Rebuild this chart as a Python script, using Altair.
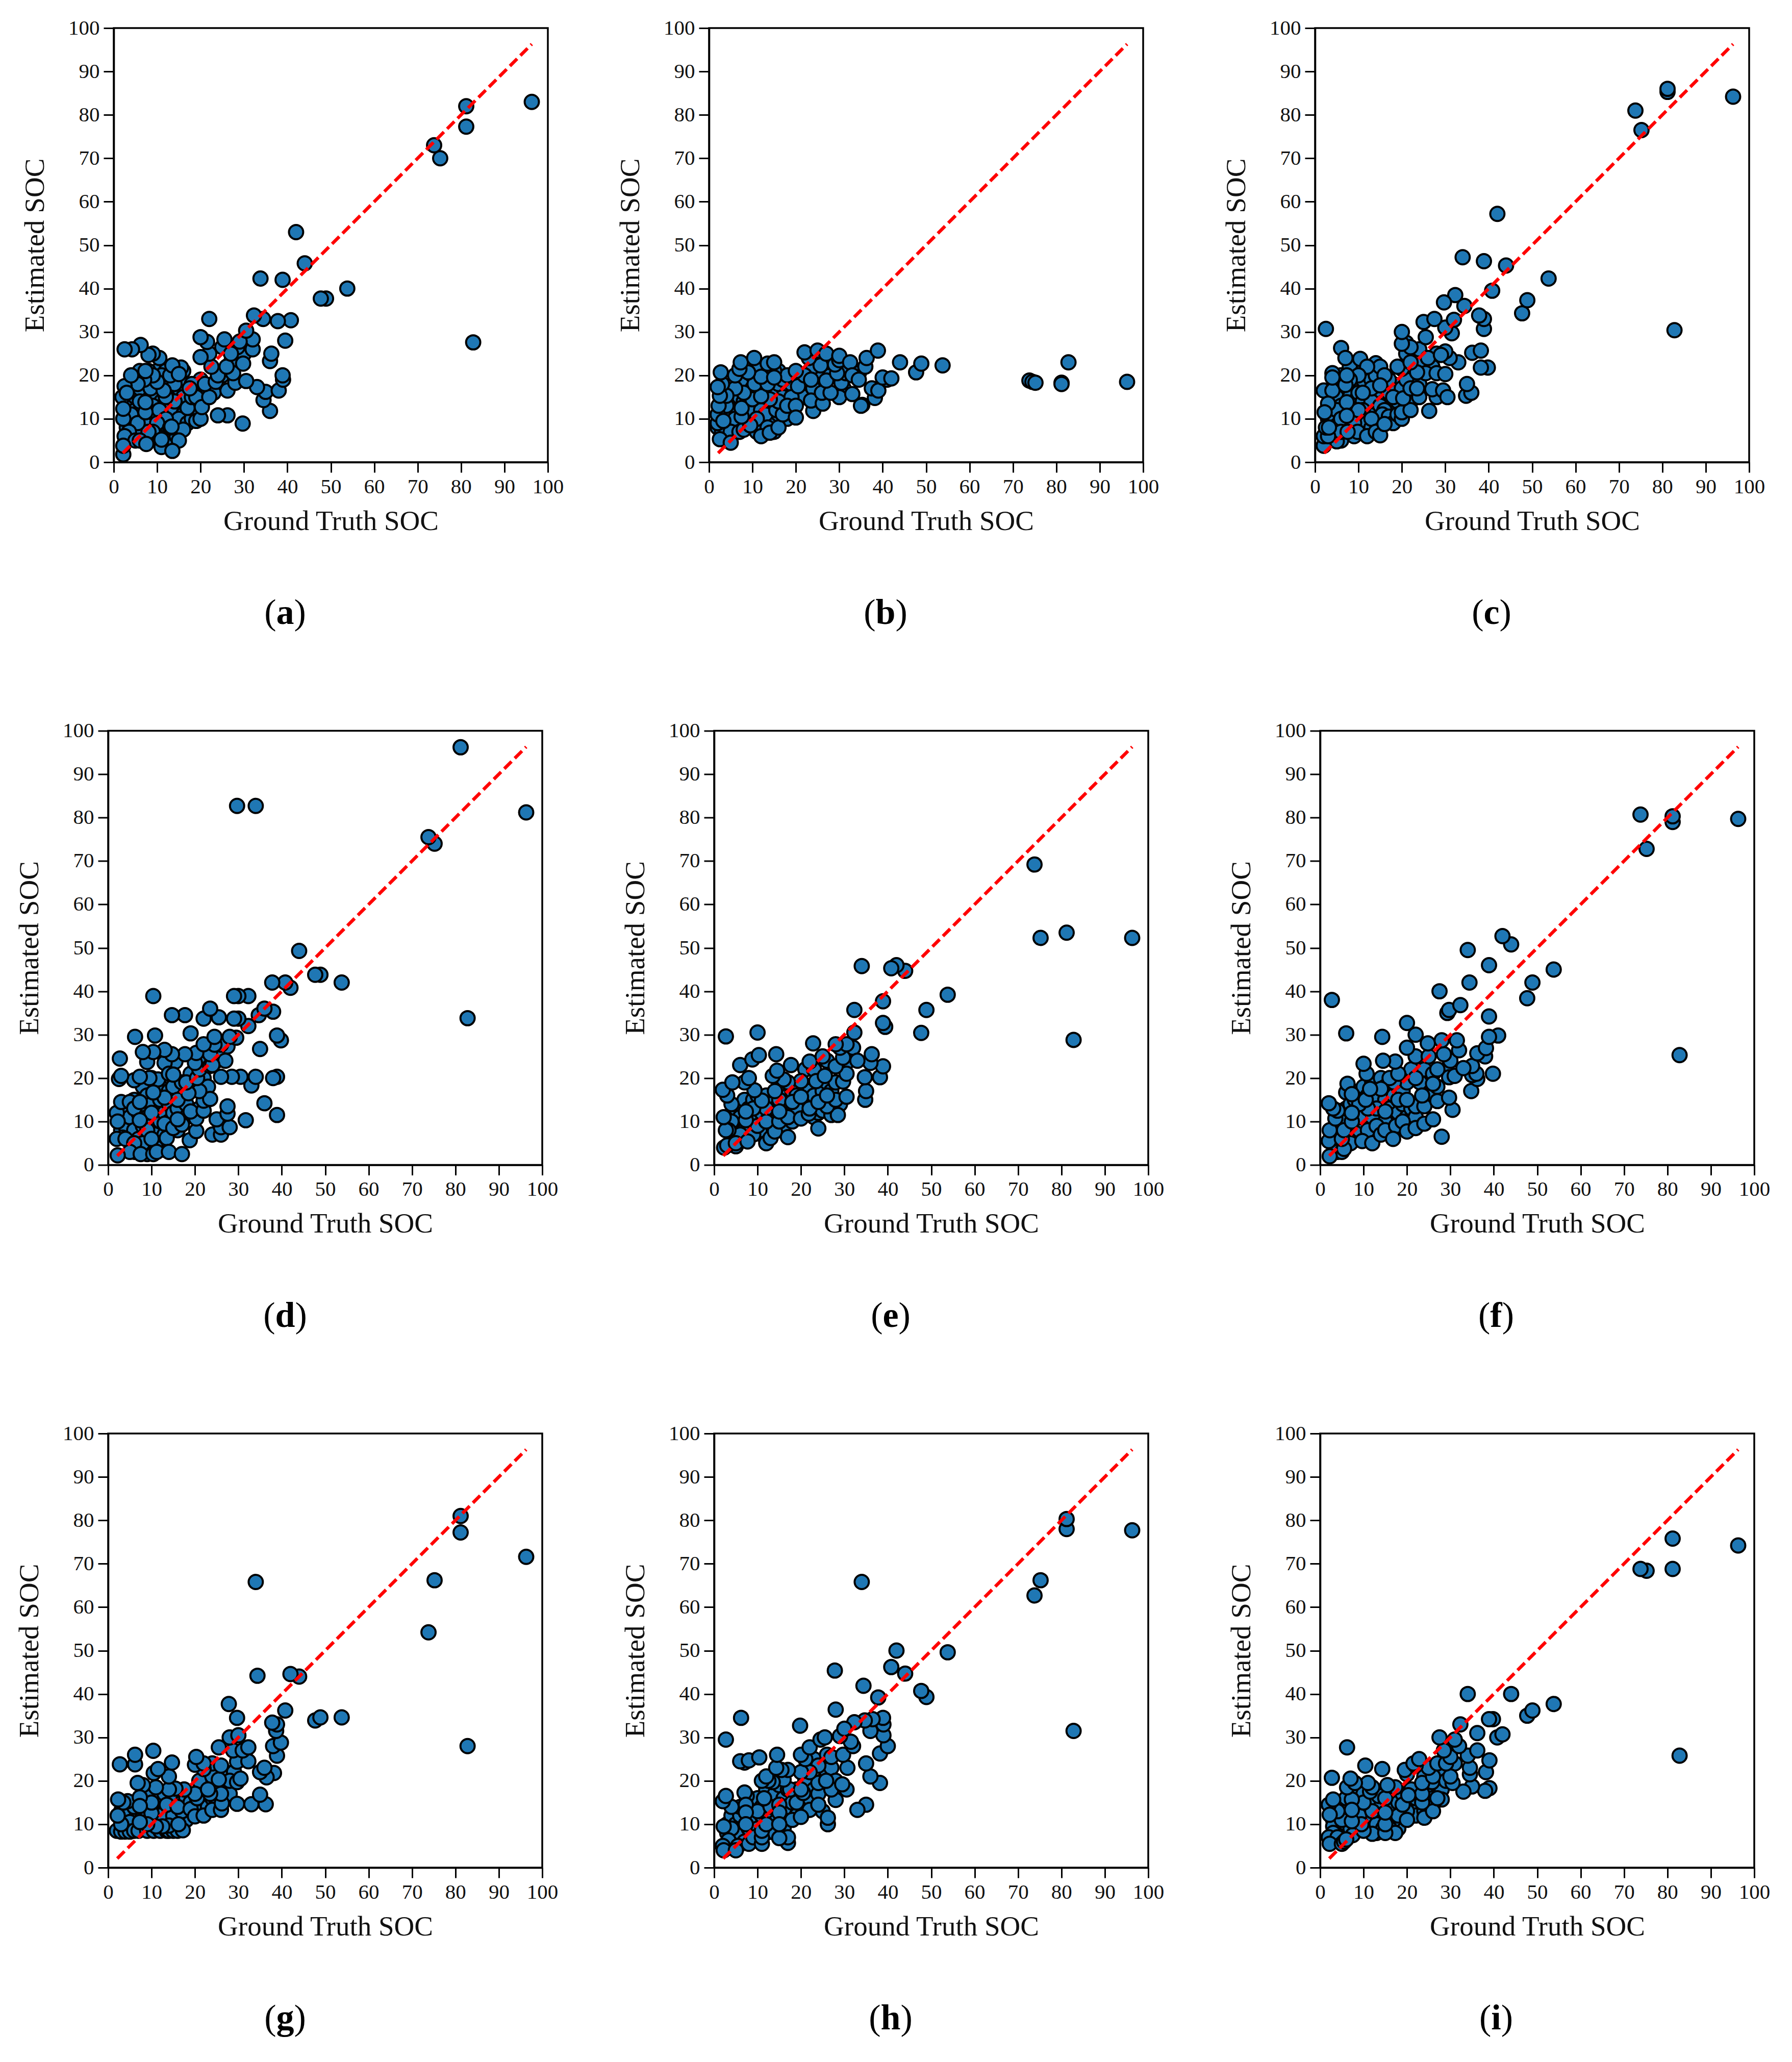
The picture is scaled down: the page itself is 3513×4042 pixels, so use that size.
import altair as alt
import pandas as pd

FONT = "Liberation Serif"
TICKS = list(range(0, 101, 10))
LINE_ENDS = [2.1, 96.3]
X_TITLE = "Ground Truth SOC"
Y_TITLE = "Estimated SOC"

FILL_A = [(3,12),(4,14),(4,9),(6,11),(6,8),(7,15),(8,10),(8,13),(9,16),(9,10),(10,15),(10,21),(11,8),(11,11),(11,14),(11,18),(12,13),(12,7),(12,19),(13,12),(13,16),(13,5),(14,10),(14,12),(14,16),(15,14),(15,17),(15,7),(16,11),(16,18),(17,15),(18,13),(19,17),(20,19),(21,16),(23,16),(25,20),(27,23),(30,25),(8,21),(6,21),(5,15),(5,7),(3,5),(12,21),(10,6),(6,17),(7,9)]
FILL_B = [(3,12),(3,14),(4,10),(5,15),(5,9),(6,13),(7,15),(7,18),(8,11),(8,14),(8,19),(9,10),(9,16),(10,9),(10,17),(10,20),(11,13),(11,15),(11,22),(12,8),(12,17),(13,13),(13,16),(13,20),(14,10),(14,12),(15,9),(15,16),(16,11),(16,18),(17,13),(18,16),(18,10),(19,18),(21,15),(22,15),(24,17),(26,20),(28,20),(31,17),(6,8),(4,8),(11,7),(16,21),(17,19),(21,19),(24,22),(28,23)]
FILL_C = [(3,10),(4,12),(4,8),(5,15),(5,18),(6,13),(6,20),(7,9),(8,12),(8,15),(8,22),(9,14),(9,18),(10,8),(10,16),(11,10),(11,19),(11,21),(12,13),(12,16),(12,9),(13,12),(13,19),(14,9),(14,16),(14,20),(15,10),(15,15),(16,14),(16,18),(17,13),(17,16),(18,12),(18,18),(19,14),(20,17),(21,19),(22,14),(24,18),(25,23),(27,22),(28,25),(24,26),(21,25),(3,11),(6,5),(9,6),(13,8)]
FILL_D = [(3,11),(3,8),(4,13),(4,9),(5,11),(6,8),(6,15),(7,12),(7,6),(8,14),(8,9),(8,18),(9,11),(9,16),(9,4),(10,14),(10,9),(10,20),(11,12),(11,7),(12,15),(12,10),(12,18),(13,12),(13,7),(14,14),(14,17),(14,10),(15,12),(15,18),(16,8),(16,13),(17,15),(17,19),(18,11),(18,14),(19,21),(20,18),(21,13),(21,24),(22,20),(23,18),(25,24),(26,26),(27,24),(9,2.5),(6,3),(13,3.5)]
FILL_E = [(3,11),(4,7),(4,8),(5,10),(5,13),(6,9),(7,8),(7,15),(8,13),(9,10),(9,15),(10,11),(10,16),(11,12),(11,7),(12,8),(12,16),(13,11),(13,14),(14,9),(14,13),(15,8),(15,18),(16,12),(16,15),(17,14),(17,16),(18,12),(18,17),(19,16),(19,11),(20,13),(21,15),(22,17),(23,11),(23,16),(24,12),(25,17),(26,19),(27,17),(28,19),(21,22),(23,22),(26,24),(31,24),(32,27),(28,12),(29,14)]
FILL_F = [(3,8),(3,5),(4,9),(4,6),(5,11),(6,13),(6,7),(7,14),(7,8),(8,11),(8,15),(8,6),(9,8),(9,17),(10,10),(10,12),(10,18),(11,16),(11,6),(12,9),(12,14),(12,19),(13,11),(13,16),(14,13),(14,20),(15,15),(15,18),(16,9),(16,13),(17,11),(17,16),(18,12),(18,18),(19,14),(19,17),(20,11),(20,19),(21,13),(21,22),(22,11),(23,19),(24,22),(25,16),(26,21),(27,18),(29,22),(30,24)]
FILL_G = [(3,13),(4,12),(4,10),(5,13),(6,11),(6,10),(7,12),(8,10),(8,14),(9,12),(9,15),(10,10),(10,17),(11,11),(11,13),(12,10),(12,14),(12,16),(13,11),(13,13),(13,17),(14,12),(15,11),(15,14),(15,16),(16,12),(17,11),(17,15),(18,13),(18,16),(19,12),(19,15),(20,14),(21,13),(21,15),(22,16),(23,14),(24,16),(25,15),(25,18),(27,18),(28,17),(23,20),(21,20),(24,21),(27,22),(29,22),(31,25)]
FILL_H = [(3,10),(3,8),(4,12),(4,6),(5,10),(5,7),(6,12),(6,8),(7,6),(8,9),(8,13),(8,15),(9,11),(9,15),(10,9),(10,7),(10,16),(11,12),(11,14),(12,8),(12,16),(12,18),(13,10),(13,12),(14,8),(14,15),(14,17),(15,19),(16,9),(16,12),(16,16),(17,14),(17,18),(18,15),(19,12),(19,18),(20,15),(21,14),(21,20),(22,16),(23,18),(24,17),(25,20),(26,22),(27,23),(28,20),(23,25),(26,26)]
FILL_I = [(3,11),(3,13),(4,10),(4,15),(5,8),(5,14),(6,10),(6,12),(6,16),(7,9),(8,12),(8,14),(8,17),(9,9),(9,15),(9,18),(10,11),(10,13),(10,17),(11,9),(11,14),(12,11),(12,16),(13,8),(13,13),(14,11),(14,14),(15,18),(16,11),(16,13),(16,15),(17,14),(18,15),(18,9),(19,17),(20,15),(21,14),(21,18),(22,12),(22,16),(24,13),(25,17),(26,16),(27,19),(28,18),(24,21),(28,22),(31,24)]

PANEL_A = [(5,12),(6,14),(4,11),(9,13),(10.5,12),(15,10),(17,9),(18,10),(19,12),(20,15),(16,15),(14,18),(11,20),(8.5,17),(18,18),(12,10),(10,9),(9,7),(8,7),(3,8),(5.5,9),(3.5,7),(2.5,6),(5,5),(6,5),(14.5,6),(13,8),(16,7.5),(15,5),(14,14),(17,12.5),(18,15),(19,15),(17.5,17),(12,15),(11.5,16.5),(10,18.5),(9,20),(7,19),(5.5,18),(3,16),(2,15),(2.5,17.5),(13,20),(16,21),(15.5,21.8),(13.5,22.3),(4,20),(10.5,24),(9,25),(8,24.7),(6.2,27),(4.2,26),(2.5,26),(19,9.5),(20,10),(29.7,8.9),(26.2,10.8),(24,10.8),(20.3,12.7),(36,11.8),(22,15),(34.5,14.3),(26.2,16.5),(35,16.2),(38,16.5),(33,17.3),(21,18),(23.5,18.5),(28,18.3),(30.5,18.7),(39,19),(38.9,20),(27.5,20.5),(24,20),(26,22),(22.5,22),(22,25),(25,26.5),(28.5,26.5),(29.8,22.7),(27,25),(20,24.2),(36,23.3),(36.3,25),(32,26),(32,28.3),(29,27.8),(25.5,28.3),(21.5,27.7),(20,28.8),(82.8,27.6),(39.5,28),(30.5,30.3),(40.8,32.7),(37.8,32.5),(34.4,33),(32.3,33.8),(22,33),(48.9,37.7),(47.7,37.7),(53.8,40),(38.9,42),(33.8,42.3),(44,45.8),(42,53),(75.2,70),(73.8,73),(81.2,77.3),(81.2,82),(96.3,83),(2.2,10),(2.2,1.8),(2.2,3.8),(7.5,4.2),(11,3.5),(13.5,2.6),(11,5.2),(13.3,8.2),(2.2,12.3),(3,16),(7.3,11.5),(7.3,13.8),(7.3,21),(15,20.3)]

PANEL_B = [(5,12),(4,13),(6,10),(9,13),(10,12),(12,12),(13,11),(17,15),(15.5,12),(11,10),(13.5,8),(15,7),(12,6),(14,6.8),(16,8),(17,11),(16,14),(19,15),(18,13),(20,13),(20,10.3),(24,11.8),(23.5,14.2),(26.2,13.5),(26,16),(30,15),(28,16),(18,20),(20.5,17.5),(22,20),(20,21),(23.5,19),(27,18.8),(30.5,18.3),(31.5,20.5),(29.5,20.5),(29,22.5),(25.7,22.3),(23,24),(22,25.3),(25,25.7),(27,25),(30,23.5),(30,24.5),(32.5,23),(34.5,20.5),(33,20),(34.5,19),(33,15.7),(35.3,13.2),(35,13),(38.2,14.8),(37.5,17),(39,16.5),(36,22),(36.3,24),(38.9,25.7),(41,19),(40,19.5),(42,19.3),(44,23),(47.7,20.7),(48.9,22.7),(53.8,22.3),(73.8,18.8),(74.5,18.5),(75.2,18.3),(81.2,18.3),(81.2,18),(82.8,23),(96.3,18.5),(2,8),(3,7),(5,7),(2.5,5.3),(5,4.5),(7,7),(8,7.5),(9.5,8.5),(2,9),(2,11),(3.3,9.5),(7.5,10.5),(7.5,12.5),(2.2,13),(10,14.5),(14,14.5),(12,15.2),(8,16),(6,17),(4,15.3),(2.5,15.3),(3,18),(2,17.3),(14,22),(10.5,18),(13.5,18),(12,19.7),(15,21),(13.5,22.7),(15,23),(9,20.7),(6,20),(2.7,20.7),(7,21.5),(7.3,23),(10.4,24),(15,19.5)]

PANEL_C = [(5,12),(6,10),(11,14),(13,14),(15,13),(16,12),(15.5,11),(11,12),(13,10),(9,9),(10,12),(9.8,7),(12,6),(14,7),(15,6.2),(17,10.5),(18,9),(16,8.8),(19,11),(20,10),(20,11.5),(22,12),(26.3,11.8),(18,15),(20.3,14.7),(22,17),(24,15),(28,15),(23.5,17),(27,16.8),(29.5,16.5),(30.5,15),(34.8,15.3),(36,16),(35,18),(25.5,20.5),(23.5,20.7),(28,20.5),(30,20.3),(39.8,21.8),(38.2,21.8),(20,21.5),(19,22),(22,23),(26,24),(33,23),(31,24),(30,25.5),(29,24.7),(36.2,25.2),(38.2,25.7),(21,27.5),(22,26.5),(20,27.3),(31.5,29.7),(25.5,28.8),(20,30),(2.5,30.7),(82.8,30.4),(38.9,30.7),(30,31),(32,32.8),(25,32.3),(27.5,33),(38.9,33),(37.8,33.8),(34.4,36),(32.3,38.5),(29.7,36.8),(47.7,34.3),(48.9,37.3),(40.8,39.5),(53.8,42.3),(44,45.3),(38.9,46.3),(34,47.2),(42,57.2),(75.2,76.5),(73.8,81),(81.2,85.3),(81.2,86),(96.3,84.2),(5,4.8),(6,7),(7.5,7),(2,3.8),(2,6),(3,6),(2.5,8),(3.2,8),(2,16.5),(4,16.5),(3,13.5),(6,26.3),(7,24),(10.4,23.8),(4,20.5),(4,19.5),(14,22.8),(15,22),(12,22),(13,17),(11,16),(17,19),(16,20),(10,20),(8,19),(7,17.8),(2.2,11.5),(7.3,13.8),(7.3,10.7),(7.3,20),(15,17.7)]

PANEL_D = [(10,12),(8,5),(12,5),(11,4),(9,8),(10,6),(13,9.5),(13.5,6.2),(15,8.5),(17,9.3),(16,10.5),(18.8,5.7),(24,7),(26,7),(20.3,7.8),(26,8.7),(28,8.7),(31.7,10.3),(38.9,11.5),(25,10.5),(20.3,10.7),(19,12.3),(22,12.5),(27.5,11.8),(27.5,13.5),(36,14.2),(16,15),(13,15.5),(22,14.8),(23.5,15.2),(21,17),(18.5,16.5),(33,18.3),(18,19),(20.5,20),(38.9,20.3),(38,20),(34,20.3),(30.5,20.3),(28.5,20.3),(26,20.3),(11.5,19.7),(9.5,20),(6,19.5),(2.5,19.8),(21,22),(23.5,22.8),(24,23),(20,23.5),(15.5,23.8),(13,23.5),(9,23.7),(2.7,24.5),(23.5,25.5),(20.3,25.8),(17.7,25.5),(14.7,25.5),(13,26.5),(10.4,26),(8,26),(35,26.7),(27.5,27.3),(26,27.7),(24.5,27.7),(22,27.8),(39.8,28.7),(38.9,29.8),(29.5,29.3),(28,29.5),(24.5,29.5),(19,30.3),(10.8,29.8),(6.2,29.5),(82.8,33.8),(32.3,32),(34.7,34.5),(30,33.7),(29,33.7),(25.5,34),(22,33.7),(17.7,34.5),(14.7,34.5),(38,35.3),(36,36),(23.5,36),(32.3,38.9),(30,38.9),(29,38.9),(10.4,38.9),(42,40.8),(40.8,42),(37.8,42),(53.8,42),(48.9,43.8),(47.7,43.8),(44,49.3),(75.2,74),(73.8,75.5),(34,82.7),(29.7,82.7),(81.2,96.2),(96.3,81.2),(2,12),(3,14.5),(5,14.5),(6,13),(2.2,10),(3.3,6.3),(2,6),(4,6),(6,5),(5,3),(7.5,2.5),(2.2,2.2),(10.4,2.5),(11.2,3),(14,3),(17,2.5),(3,20.5),(14,21),(15,20.8),(7.3,14.5),(7.3,10.3),(7.3,20.3),(10.4,16.7)]

PANEL_E = [(12,13),(9,13),(6,11),(4,10),(16,9),(19,13),(18,10),(13,9),(10.5,8),(9,7),(6,7),(3.3,8),(2.7,8),(2.3,4),(5,4.3),(3,4.5),(5,5),(7.7,5.4),(12,5),(13,6.2),(14,7.7),(17,6.4),(24,8.4),(10,9),(12,10),(15,10),(17,11),(20,10.7),(21.8,11.8),(25,12.5),(27,11.5),(28.5,11.5),(26,13.5),(22,13),(28,15),(24,14.5),(15,15),(14,17),(11,14.8),(4,14),(18,14.5),(20,15.7),(26,16),(30.5,15.7),(34.8,15),(35,17),(9.3,17.2),(3,16),(2,17.3),(29.7,19.2),(23.5,19.3),(20,19.3),(17,19),(16,19.7),(7,19),(8,20),(25.5,20.5),(34.7,20.2),(38.2,20.2),(30.5,21),(28,22.7),(38.9,22.7),(13.5,20.5),(14.5,21.7),(6,23),(17.7,23),(22,23.8),(36,23.5),(33,24),(36.3,25.5),(29.7,24.7),(25,25),(14.3,25.5),(8.8,24.3),(10.3,25.3),(4.2,19),(29,27),(30.5,27.8),(28,27.8),(22.8,28),(82.8,28.8),(32.3,30.5),(10,30.5),(2.7,29.6),(47.7,30.4),(39.4,31.8),(38.9,32.7),(32.3,35.7),(48.9,35.7),(38.9,37.7),(53.8,39.2),(44,44.7),(42,46),(40.8,45.3),(34,45.8),(73.8,69.2),(75.2,52.3),(81.2,53.5),(96.3,52.3),(2.2,11),(15,12.3),(7.3,10.3),(7.3,12.3)]

PANEL_F = [(11,8),(12,11),(9,11),(13,13),(15,10),(11,13),(9,14),(7,5),(4,3),(5,3),(2.2,2),(5.5,3.7),(9.7,5.5),(12,5),(13,9),(14,7),(15,8),(17.5,9),(16.8,6),(19,10),(20,7.7),(22,8.5),(24,9.5),(26,10.5),(28,6.5),(30.5,12.7),(2,5.5),(5,6),(5.5,8),(2.2,8),(3.5,10.7),(4,12.5),(3,13),(2,14.2),(22,13.5),(24,13.5),(27,14.7),(29.7,15.5),(23.5,16),(18,15),(20,15),(10.5,15),(26,18.7),(17,19),(16,20),(14,17.5),(11.5,17.5),(6,16.7),(6.3,18.7),(10.7,21),(18,21),(22,20),(34.8,17),(29.7,20.2),(31,20.5),(36.2,19.8),(39.8,21),(35,20.7),(36,21),(35,22.8),(33,22.3),(27,22),(17.3,23.8),(14.5,24),(10,23.3),(28.5,25.5),(22,25),(25,25),(24.8,28),(20,27),(38,25),(36.2,25.7),(38.2,26.9),(32,26.4),(28,28.7),(31.5,28.7),(41,29.8),(38.9,29.5),(22,30),(20,32.7),(14.3,29.5),(6,30.3),(2.7,38),(38.9,34.2),(29.3,35),(29.7,35.7),(32.3,36.8),(47.7,38.4),(27.5,40),(48.9,42),(34.4,42),(53.8,45),(38.9,46),(34,49.5),(44,50.8),(42,52.7),(75.2,72.8),(73.8,80.7),(81.2,79),(81.2,80.3),(96.3,79.7),(82.8,25.3),(7.3,10),(7.3,12),(7.3,16.3),(15,12.3)]

PANEL_G = [(5,10.5),(8,12),(12,12),(15,12),(18,11),(17,13),(10,12.5),(2,8.5),(3,8.3),(4,8.3),(5,8.3),(6,8.5),(7,8.5),(9,8.5),(10.5,8.5),(12,8.5),(13.5,8.5),(14,8.5),(15,8.5),(16,8.5),(17.2,8.6),(14,9.7),(12.5,9.5),(11,9.5),(9,10),(3,10),(6,14),(10,15),(13.5,14.5),(16,14),(4.5,15.3),(3.5,15),(2.3,15.7),(19,13.5),(20,11.8),(22,12),(24,13.3),(26,13.3),(26.2,14.8),(29.7,14.7),(36.3,14.6),(33,14.6),(20.5,16),(35,16.8),(26,17),(23.5,17),(20,17),(17.5,18),(15.5,18.2),(14,18),(11,18.5),(8,19),(6.8,19.5),(28,20),(25.5,20.3),(23,18),(29.7,19.7),(30.5,20.5),(38.2,21.8),(36.5,20.8),(35,22),(36,23),(24,24),(26,23.5),(29.7,24.4),(32.3,24.5),(22,22.7),(20,23.7),(22,24),(20.3,25.5),(14,21),(10.5,21.8),(11.5,22.7),(14.7,24.2),(6.2,23.8),(2.7,23.8),(6.2,26),(10.4,26.9),(38.9,25.8),(28.8,27),(31,27),(32.3,27.7),(25.5,27.7),(28,30),(30,30.5),(82.8,28),(38,28),(39.8,28.8),(38.7,31.5),(38.9,33),(37.8,33.4),(53.8,34.6),(47.7,33.9),(48.9,34.6),(29.7,34.5),(27.8,37.7),(40.8,36.2),(44,44),(34.4,44.2),(42,44.6),(34,65.8),(73.8,54.2),(75.2,66.2),(81.2,77.2),(81.2,81),(96.3,71.6),(2.2,12),(7.3,16.2),(7.3,14.2),(7.3,10.5),(16.2,10)]

PANEL_H = [(4,9),(18,11),(12,13),(10,13),(13,14),(3.3,6.3),(2,5),(2.2,4),(5.5,5),(5,4),(8,5.5),(9,7),(17,5.7),(17,7),(15,6.8),(11,5.5),(11,7),(11,8.5),(12,10),(25,13),(22,13.3),(20,11.7),(26.2,10),(26.2,11.5),(35,14.5),(33,13.3),(24,14.5),(19,15),(6,14),(4,14),(2,15.3),(2.7,16.5),(7.5,16.5),(7,17.3),(11.5,16),(28,15.6),(20.5,17.2),(27,18),(17.5,18),(20,18),(30.5,18),(29.5,19.2),(24,19.5),(25.8,20),(16,20.3),(13.5,19.7),(12.5,20),(11,20),(12,21),(24,23.5),(22,22),(20,22),(38.2,19.5),(36,21),(17,22.5),(15.5,22.5),(14.3,23),(30.7,23),(35,24),(21,25),(27,25.5),(29.7,26),(38.2,26.3),(7,24.2),(6,24.5),(8,24.7),(10.4,25.4),(14.5,26),(20,26),(22,27.7),(82.8,31.5),(40,28),(32,28),(31.5,29),(24.5,29.5),(25.5,30),(29,30.3),(39,30.5),(36,31.5),(39,33),(38.9,34.5),(36.5,34.2),(34.7,33.9),(32.3,33.5),(30,32),(19.8,32.7),(2.7,29.5),(6.2,34.5),(28,36.4),(37.8,39.2),(48.9,39.3),(47.7,40.7),(34.4,41.9),(44,44.7),(27.8,45.4),(40.8,46.2),(53.8,49.6),(42,50),(34,65.8),(73.8,62.7),(75.2,66.2),(81.2,78),(81.2,80.3),(96.3,77.7),(15,14.5),(15,12.7),(15,10),(7.3,14.5),(7.3,12.7),(7.3,10),(2.2,9.5)]

PANEL_I = [(3,9.5),(5,11),(11,11),(13,10),(9,12),(17,11),(20,13),(3,8),(2,7),(4,7),(2.2,5.5),(5,5.5),(5.5,6),(7.5,7.5),(6,6.5),(16,9),(14.5,9),(17.3,8),(12,7.8),(10,8.5),(9.5,10),(15,8),(15,10),(18,12),(12,13),(20,11),(24,11.5),(26,13),(23.5,15),(19,14.5),(4,13),(10,15),(2,14.5),(3,15.7),(7.3,15.7),(28,15.7),(27,16),(23.5,17),(20.3,16.7),(13.5,16.5),(15,16),(39,18.3),(38,17.7),(35,18.7),(33,17.5),(29,20),(30.5,19.5),(25.8,19.7),(23.5,19.5),(17.3,18.5),(15.5,19),(11.5,17.5),(6.2,18.5),(12,18.5),(11,19.5),(8,19.5),(7,20.5),(2.7,20.7),(30,21),(26,21),(25,23),(38.2,22),(34.5,21.5),(34.5,23),(20,21.5),(19.5,22.5),(14.3,22.7),(10.4,23.5),(27,24),(29,24),(22,23.5),(21.5,24),(22.8,25),(39,24.7),(30,25.5),(34,25.8),(36.2,27),(32,28),(28.5,27),(6.2,27.7),(31,29.5),(27.5,30),(40.8,30),(42,30.7),(36.2,31),(32.3,33),(39.8,34.2),(38.9,34.2),(47.7,35),(48.9,36.2),(53.8,37.7),(44,40),(34,40),(75.2,68.4),(73.8,68.8),(81.2,68.8),(81.2,75.8),(96.3,74.2),(82.8,25.8),(2.2,12.2),(7.3,10.7),(7.3,13.3),(15,12.7)]

# panel id: back-layer points, front-layer points, caption centre, caption letter width
PANELS = {
    "a": (FILL_A, PANEL_A, 336, 0.50), "b": (FILL_B, PANEL_B, 346, 0.556), "c": (FILL_C, PANEL_C, 346, 0.444),
    "d": (FILL_D, PANEL_D, 347, 0.556), "e": (FILL_E, PANEL_E, 346, 0.444), "f": (FILL_F, PANEL_F, 345, 0.333),
    "g": (FILL_G, PANEL_G, 347, 0.50), "h": (FILL_H, PANEL_H, 346, 0.556), "i": (FILL_I, PANEL_I, 345, 0.278),
}

PW, PH = 851, 851
CAP_SIZE = 70
CAP_Y = 1147


def panel(letter):
    fill, pts, cx, lw = PANELS[letter]
    df = pd.DataFrame(fill + pts, columns=["gt", "est"])
    xs = alt.X("gt:Q", scale=alt.Scale(domain=[0, 100], nice=False),
               axis=alt.Axis(values=TICKS, title=X_TITLE, format="d", titlePadding=21))
    ys = alt.Y("est:Q", scale=alt.Scale(domain=[0, 100], nice=False),
               axis=alt.Axis(values=TICKS, title=Y_TITLE, format="d", titlePadding=36))
    points = alt.Chart(df).mark_circle(
        size=780, color="#1f77b4", opacity=1, stroke="black", strokeWidth=4
    ).encode(x=xs, y=ys)
    line = alt.Chart(pd.DataFrame({"gt": LINE_ENDS, "est": LINE_ENDS})).mark_line(
        color="#ff0000", strokeWidth=6.5, strokeDash=[20, 9]
    ).encode(x=alt.X("gt:Q"), y=alt.Y("est:Q"))
    half = lw * CAP_SIZE / 2
    def cap(t, x, align, weight):
        return alt.Chart(pd.DataFrame({"t": [t]})).mark_text(
            font=FONT, fontSize=CAP_SIZE, fontWeight=weight, align=align, baseline="middle", color="black"
        ).encode(text="t:N", x=alt.value(x), y=alt.value(CAP_Y))
    caps = [
        cap("(", cx - half, "right", "normal"),
        cap(letter, cx, "center", "bold"),
        cap(")", cx + half, "left", "normal"),
    ]
    return alt.layer(points, line, *caps).properties(
        width=PW, height=PH, view=alt.ViewBackground(stroke="black", strokeWidth=3.5)
    )


def spacer(w):
    return alt.Chart(pd.DataFrame({"v": [0]})).mark_point(opacity=0).encode(
        x=alt.value(0), y=alt.value(0)
    ).properties(width=w, height=PH, view=alt.ViewBackground(stroke=None))


row1 = alt.hconcat(spacer(11), panel("a"), spacer(316), panel("b"), spacer(337), panel("c"),
                   spacing=0, bounds="flush")
row2 = alt.hconcat(panel("d"), spacer(337), panel("e"), spacer(337), panel("f"),
                   spacing=0, bounds="flush")
row3 = alt.hconcat(panel("g"), spacer(337), panel("h"), spacer(337), panel("i"),
                   spacing=0, bounds="flush")

chart = alt.vconcat(row1, row2, row3, spacing=1377.5, bounds="flush").properties(
    padding={"left": 20, "top": 24, "right": 0, "bottom": 0},
    background="white",
).configure_view(strokeWidth=0).configure_axis(
    grid=False, labelFont=FONT, titleFont=FONT, labelFontSize=41, titleFontSize=55,
    titleFontWeight="normal", labelColor="#111111", titleColor="#111111",
    tickColor="black", domainColor="black", tickSize=20, tickWidth=3, domainWidth=3.5,
    labelPadding=8, labelOverlap=False, labelFlush=False,
)

chart.save("out.html", embed_options={"renderer": "svg", "actions": False})
